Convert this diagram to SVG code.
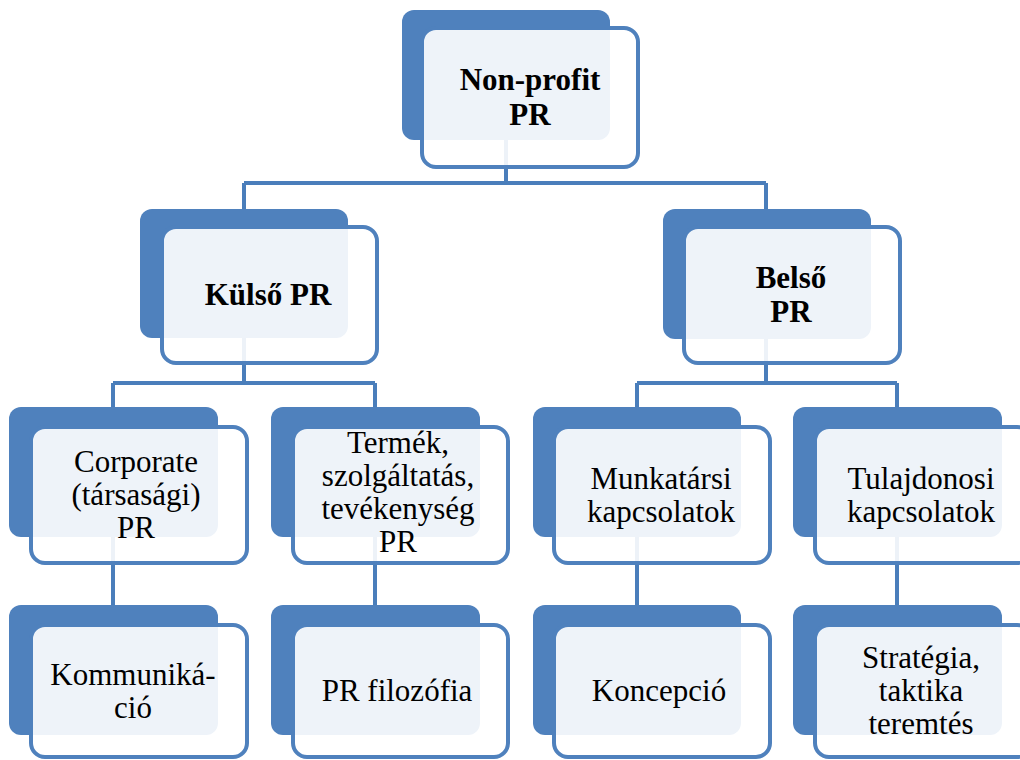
<svg xmlns="http://www.w3.org/2000/svg" width="1020" height="760" viewBox="0 0 1020 760">
<style>
.back{fill:#4F81BD;}
.front{fill:#FFFFFF;fill-opacity:0.9;stroke:#4F81BD;stroke-width:4;}
.conn{fill:none;stroke:#4A7EBB;stroke-width:4;}
text{font-size:31px;fill:#000;text-anchor:middle;}
.b{font-weight:bold;}
</style>
<rect width="1020" height="760" fill="#FFFFFF"/>
<g id="connectors">
<path class="conn" d="M506 140 V183 M244 183 H766 M244 183 V209 M766 183 V209"/>
<path class="conn" d="M244 338 V383 M113 383 H375 M113 383 V407 M375 383 V407"/>
<path class="conn" d="M766 338 V383 M637 383 H897 M637 383 V407 M897 383 V407"/>
<path class="conn" d="M113 537 V605 M375 537 V605 M637 537 V605 M897 537 V605"/>
</g>
<g font-family="Liberation Serif, DejaVu Serif, serif">
<g id="n-nonprofit">
<rect class="back" x="402" y="10" width="208" height="130" rx="12"/>
<rect class="front" x="422" y="28" width="216" height="139" rx="14"/>
<text class="b" x="530" y="90">Non-profit</text>
<text class="b" x="530" y="125">PR</text>
</g>
<g id="n-kulso">
<rect class="back" x="140" y="209" width="208" height="129" rx="12"/>
<rect class="front" x="162" y="227" width="215" height="136" rx="14"/>
<text class="b" x="268" y="305">Külső PR</text>
</g>
<g id="n-belso">
<rect class="back" x="663" y="209" width="208" height="130" rx="12"/>
<rect class="front" x="684" y="227" width="216" height="136" rx="14"/>
<text class="b" x="791" y="288">Belső</text>
<text class="b" x="791" y="322">PR</text>
</g>
<g id="n-corporate">
<rect class="back" x="9" y="407" width="209" height="130" rx="12"/>
<rect class="front" x="31" y="427" width="216" height="136" rx="14"/>
<text x="136" y="472">Corporate</text>
<text x="136" y="505">(társasági)</text>
<text x="136" y="538">PR</text>
</g>
<g id="n-termek">
<rect class="back" x="271" y="407" width="209" height="130" rx="12"/>
<rect class="front" x="293" y="427" width="215" height="136" rx="14"/>
<text x="398" y="453">Termék,</text>
<text x="398" y="486">szolgáltatás,</text>
<text x="398" y="519">tevékenység</text>
<text x="398" y="552">PR</text>
</g>
<g id="n-munkatarsi">
<rect class="back" x="533" y="407" width="208" height="130" rx="12"/>
<rect class="front" x="554" y="427" width="216" height="136" rx="14"/>
<text x="661" y="489">Munkatársi</text>
<text x="661" y="522">kapcsolatok</text>
</g>
<g id="n-tulajdonosi">
<rect class="back" x="793" y="407" width="209" height="130" rx="12"/>
<rect class="front" x="815" y="427" width="216" height="136" rx="14"/>
<text x="921" y="489">Tulajdonosi</text>
<text x="921" y="522">kapcsolatok</text>
</g>
<g id="n-kommunikacio">
<rect class="back" x="9" y="605" width="209" height="130" rx="12"/>
<rect class="front" x="31" y="625" width="216" height="132" rx="14"/>
<text x="133" y="685">Kommuniká-</text>
<text x="133" y="718">ció</text>
</g>
<g id="n-filozofia">
<rect class="back" x="271" y="605" width="209" height="130" rx="12"/>
<rect class="front" x="293" y="625" width="215" height="132" rx="14"/>
<text x="397" y="701">PR filozófia</text>
</g>
<g id="n-koncepcio">
<rect class="back" x="533" y="605" width="208" height="130" rx="12"/>
<rect class="front" x="554" y="625" width="216" height="132" rx="14"/>
<text x="659" y="701">Koncepció</text>
</g>
<g id="n-strategia">
<rect class="back" x="793" y="605" width="209" height="130" rx="12"/>
<rect class="front" x="815" y="625" width="216" height="132" rx="14"/>
<text x="921" y="668">Stratégia,</text>
<text x="921" y="701">taktika</text>
<text x="921" y="734">teremtés</text>
</g>
</g>
</svg>
